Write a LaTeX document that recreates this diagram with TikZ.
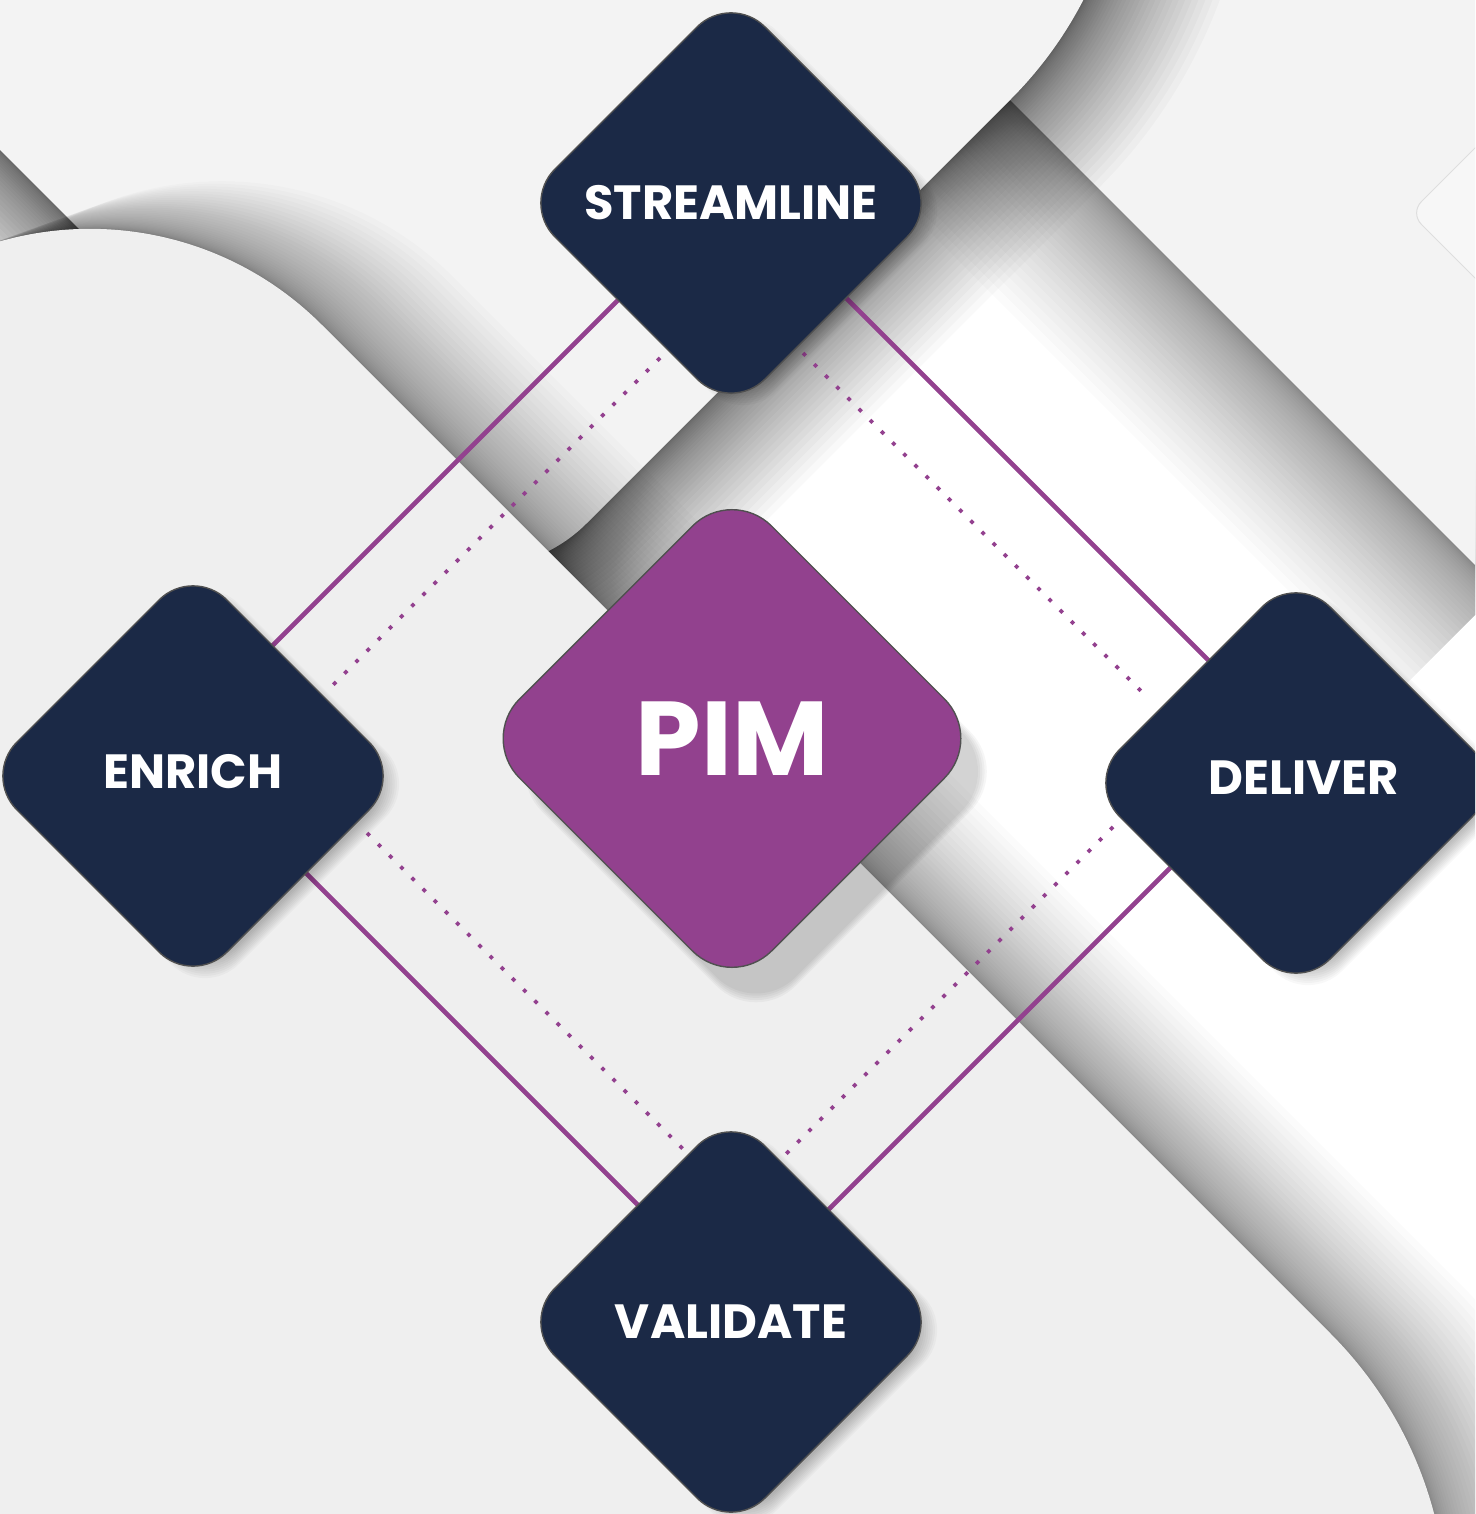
\documentclass[tikz,border=0pt]{standalone}
\usepackage{fontspec}
\setmainfont{Poppins}
\usetikzlibrary{shapes.geometric}
\definecolor{navy}{HTML}{1B2946}
\definecolor{pimpurple}{HTML}{92418E}
\definecolor{lineviolet}{HTML}{93418F}
\definecolor{paperT}{HTML}{F3F3F3}
\definecolor{paperL}{HTML}{EFEFEF}
\definecolor{edgegrey}{HTML}{505050}
\newcommand\softdiamond[8]{% cx cy h r dx dy layers opacity
  \foreach \k in {1,...,#7}{%
    \pgfmathsetmacro\hh{#3+2.2*\k}%
    \fill[black, opacity=#8, rounded corners=#4] (#1+#5,#2+#6-\hh) -- (#1+#5+\hh,#2+#6) -- (#1+#5,#2+#6+\hh) -- (#1+#5-\hh,#2+#6) -- cycle;
  }}
\begin{document}
\begin{tikzpicture}[x=1pt,y=-1pt,
  stepnode/.style={diamond, aspect=1, inner sep=0pt, outer sep=0pt, draw=edgegrey, line width=1.4pt, text=white},
  navybox/.style={stepnode, fill=navy, minimum width=420pt, minimum height=420pt, rounded corners=48pt, font=\bfseries\fontsize{48}{52}\selectfont},
  pimbox/.style={stepnode, fill=pimpurple, minimum width=504pt, minimum height=504pt, rounded corners=56pt, font=\bfseries\fontsize{105}{114}\selectfont},
  solidlink/.style={draw=lineviolet, line width=4.6pt},
  solidshade/.style={draw=black, opacity=0.12, line width=4pt},
  dotlink/.style={draw=lineviolet, line width=3.8pt, dash pattern=on 3.8pt off 12pt},
]
\useasboundingbox (0,0) rectangle (1475,1514);
\clip (0,0) rectangle (1475,1514);
% base
\fill[white] (-10,-10) rectangle (1490,1530);
% shadow of the top-right sheet
\foreach \i in {1,...,36}{
  \pgfmathsetmacro\w{300*(\i/36)^2}
  \draw[black, opacity=0.015, line width=\w pt] (900,-10) -- (1500,590);
}
\fill[paperT] (900,-10) -- (1500,-10) -- (1500,590) -- cycle;
\draw[draw=black!13, fill=white, fill opacity=0.35, line width=1pt, rounded corners=16pt] (1540,83) -- (1410,213) -- (1540,343);
% shadow of the top-left sheet
\foreach \i in {1,...,36}{
  \pgfmathsetmacro\w{250*(\i/36)^2}
  \draw[black, opacity=0.025, line width=\w pt, line join=round]
    (-300,-150) -- (373.2,523.2) .. controls (432.2,582.2) and (527.8,582.2) .. (586.8,523.2)
    -- (1010.4,99.6) .. controls (1167.1,-57.1) and (1167.1,-310.9) .. (1010.4,-467.6);
}
\fill[paperT] (-300,-150) -- (373.2,523.2) .. controls (432.2,582.2) and (527.8,582.2) .. (586.8,523.2)
    -- (1010.4,99.6) .. controls (1167.1,-57.1) and (1167.1,-310.9) .. (1010.4,-467.6)
    -- (-300,-467.6) -- cycle;
% shadow of the lower-left sheet
\foreach \i in {1,...,36}{
  \pgfmathsetmacro\a{140*(\i/36)^2}
  \fill[black, opacity=0.015, shift={(0.94*\a,-0.34*\a)}]
    (-600,783) -- (-141.9,324.9) .. controls (-13.8,196.8) and (193.8,196.8) .. (321.9,324.9)
    -- (1330.2,1333.2) .. controls (1486.4,1489.4) and (1486.4,1742.6) .. (1330.2,1898.8)
    -- (1000,2229) -- (-600,2229) -- cycle;
}
\fill[paperL]
    (-600,783) -- (-141.9,324.9) .. controls (-13.8,196.8) and (193.8,196.8) .. (321.9,324.9)
    -- (1330.2,1333.2) .. controls (1486.4,1489.4) and (1486.4,1742.6) .. (1330.2,1898.8)
    -- (1000,2229) -- (-600,2229) -- cycle;
% connector geometry
\coordinate (oT) at (733,185);
\coordinate (oL) at (175.5,742.5);
\coordinate (oR) at (1293,745);
\coordinate (oB) at (735.5,1302.5);
\coordinate (dSE1) at (660,358);  \coordinate (dSE2) at (330,688);
\coordinate (dSD1) at (803,353);  \coordinate (dSD2) at (1142,692);
\coordinate (dEV1) at (367,833);  \coordinate (dEV2) at (690,1156);
\coordinate (dDV1) at (1113,827); \coordinate (dDV2) at (782,1158);
% solid connectors with faint shadow
\begin{scope}[shift={(2.5,2.5)}]
  \draw[solidshade] (oT) -- (oL) -- (oB) -- (oR) -- cycle;
\end{scope}
\draw[solidlink] (oT) -- (oL) -- (oB) -- (oR) -- cycle;
% dotted connectors
\draw[dotlink] (dSE1) -- (dSE2);
\draw[dotlink] (dSD1) -- (dSD2);
\draw[dotlink] (dEV1) -- (dEV2);
\draw[dotlink] (dDV1) -- (dDV2);
% shadows of the boxes
\softdiamond{731}{203}{192}{48pt}{12}{8}{10}{0.028}
\softdiamond{193}{776}{192}{48pt}{12}{8}{10}{0.028}
\softdiamond{1296}{783}{192}{48pt}{12}{8}{10}{0.028}
\softdiamond{731}{1322}{192}{48pt}{12}{8}{10}{0.028}
\softdiamond{732}{738.5}{243}{56pt}{24}{33}{5}{0.034}
% boxes
\node[pimbox] (pim) at (732,738.5) {PIM};
\node[navybox] (stream) at (731,203) {STREAMLINE};
\node[navybox] (enrich) at (193,776) {\raisebox{10pt}{ENRICH}};
\node[navybox] (deliver) at (1296,783) {\hspace*{16pt}\raisebox{10pt}{DELIVER}};
\node[navybox] (validate) at (731,1322) {VALIDATE};
\end{tikzpicture}
\end{document}
